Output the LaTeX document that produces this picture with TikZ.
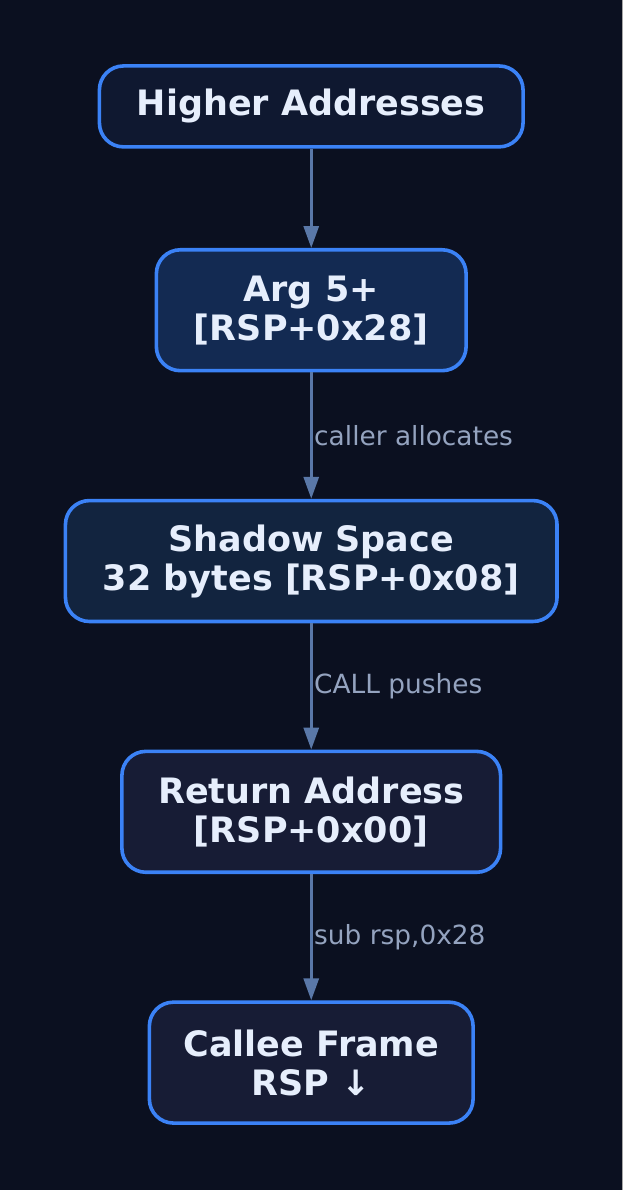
\documentclass[tikz,border=0pt]{standalone}
\usepackage{fontspec}
\setmainfont{DejaVu Sans}
\usetikzlibrary{arrows.meta}

\definecolor{bgdark}{HTML}{0B1020}
\definecolor{edgeblue}{HTML}{3B82F6}
\definecolor{linkblue}{HTML}{5A78A8}
\definecolor{textlight}{HTML}{E6EEFC}
\definecolor{tagsoft}{HTML}{94A3BF}
\definecolor{fillhigh}{HTML}{0F1830}
\definecolor{fillarg}{HTML}{132A52}
\definecolor{fillshadow}{HTML}{12243F}
\definecolor{fillframe}{HTML}{171C35}

\begin{document}
\begin{tikzpicture}[x=1pt,y=-1pt,
  frame/.style={draw=edgeblue, line width=3.6pt, rounded corners=24pt, align=center,
    text=textlight, font=\bfseries\fontsize{35}{39}\selectfont,
    minimum height=121pt, inner sep=0pt},
  link/.style={draw=linkblue, line width=3pt, -{Triangle[length=22pt,width=15pt]}},
  tag/.style={text=tagsoft, font=\fontsize{26.4}{30}\selectfont, anchor=west, inner sep=0pt, xshift=1.5pt}]
  \fill[bgdark] (0,0) rectangle (624,1190);
  \draw[gray!70, line width=1pt] (623.5,0) -- (623.5,1190);

  \node[frame, fill=fillhigh, minimum width=424pt, minimum height=81pt] (high) at (311.5,106) {Higher Addresses};
  \node[frame, fill=fillarg, minimum width=310pt] (arg) at (311.5,310) {Arg 5+\\{}[RSP+0x28]};
  \node[frame, fill=fillshadow, minimum width=492pt] (shadow) at (311.5,561) {Shadow Space\\32 bytes [RSP+0x08]};
  \node[frame, fill=fillframe, minimum width=379pt] (ret) at (311.5,812) {Return Address\\{}[RSP+0x00]};
  \node[frame, fill=fillframe, minimum width=324pt] (callee) at (311.5,1063) {Callee Frame\\RSP ↓};

  \draw[link] (high) -- (arg);
  \draw[link] (arg) -- node[tag] {caller allocates} (shadow);
  \draw[link] (shadow) -- node[tag] {CALL pushes} (ret);
  \draw[link] (ret) -- node[tag] {sub rsp,0x28} (callee);
\end{tikzpicture}
\end{document}
